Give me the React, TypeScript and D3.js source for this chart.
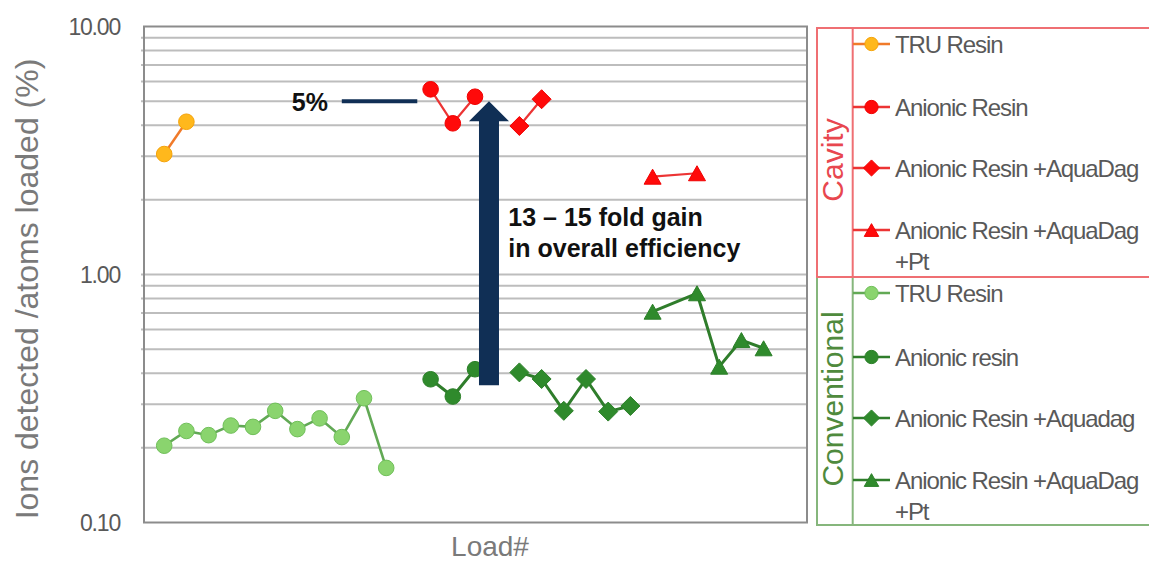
import React from "react";
import * as d3 from "d3";

// ---- data (Load# index, value in %) ----
const cavTruX = [1, 2];
const cavTruY = [3.06, 4.13];
const cavAnionicX = [13, 14, 15];
const cavAnionicY = [5.58, 4.07, 5.21];
const cavAquaX = [17, 18];
const cavAquaY = [3.97, 5.09];
const cavPtX = [23, 25];
const cavPtY = [2.48, 2.56];

const convTruX = [1, 2, 3, 4, 5, 6, 7, 8, 9, 10, 11];
const convTruY = [0.204, 0.234, 0.225, 0.246, 0.243, 0.282, 0.238, 0.263, 0.221, 0.317, 0.166];
const convAnionicX = [13, 14, 15];
const convAnionicY = [0.378, 0.322, 0.415];
const convAquaX = [17, 18, 19, 20, 21, 22];
const convAquaY = [0.403, 0.379, 0.282, 0.379, 0.28, 0.295];
const convPtX = [23, 25, 26, 27, 28];
const convPtY = [0.708, 0.84, 0.425, 0.544, 0.504];

const yTicks = [0.1, 1, 10];
const yTickLabels = ["0.10", "1.00", "10.00"];

type Shape = "circle" | "diamond" | "triangle";
interface Series {
  name: string;
  xs: number[];
  ys: number[];
  shape: Shape;
  fill: string;
  stroke: string;
  line: string;
  lineWidth: number;
}

const cavitySeries: Series[] = [
  { name: "TRU Resin", xs: cavTruX, ys: cavTruY, shape: "circle", fill: "#ffb81c", stroke: "#f5a30a", line: "#f07a2a", lineWidth: 2.5 },
  { name: "Anionic Resin", xs: cavAnionicX, ys: cavAnionicY, shape: "circle", fill: "#ff0a0a", stroke: "#f00000", line: "#ec3434", lineWidth: 2.2 },
  { name: "Anionic Resin +AquaDag", xs: cavAquaX, ys: cavAquaY, shape: "diamond", fill: "#ff0a0a", stroke: "#f00000", line: "#ec3434", lineWidth: 2.2 },
  { name: "Anionic Resin +AquaDag|+Pt", xs: cavPtX, ys: cavPtY, shape: "triangle", fill: "#ff0a0a", stroke: "#f00000", line: "#ec3434", lineWidth: 2.2 },
];
const convSeries: Series[] = [
  { name: "TRU Resin", xs: convTruX, ys: convTruY, shape: "circle", fill: "#8ad46e", stroke: "#70bf5a", line: "#62a955", lineWidth: 2.6 },
  { name: "Anionic resin", xs: convAnionicX, ys: convAnionicY, shape: "circle", fill: "#2f8a2c", stroke: "#2b7f28", line: "#2f7d2b", lineWidth: 3 },
  { name: "Anionic Resin +Aquadag", xs: convAquaX, ys: convAquaY, shape: "diamond", fill: "#2f8a2c", stroke: "#2b7f28", line: "#2f7d2b", lineWidth: 3 },
  { name: "Anionic Resin +AquaDag|+Pt", xs: convPtX, ys: convPtY, shape: "triangle", fill: "#2f8a2c", stroke: "#2b7f28", line: "#2f7d2b", lineWidth: 3 },
];

const W = 1149;
const H = 563;
const plot = { left: 144, right: 807, top: 26.5, bottom: 522.5 };
const FONT = "'Liberation Sans', Arial, sans-serif";

const x = d3.scaleLinear().domain([0, 30]).range([142, 808]);
const y = d3.scaleLog().domain([0.1, 10]).range([plot.bottom, plot.top]);

function markerPath(shape: Shape, scale = 1): string {
  if (shape === "circle") {
    const r = 7.8 * scale;
    return `M${-r},0A${r},${r} 0 1,0 ${r},0A${r},${r} 0 1,0 ${-r},0Z`;
  }
  if (shape === "diamond") {
    const r = 9.5 * scale;
    return `M0,${-r}L${r},0L0,${r}L${-r},0Z`;
  }
  const w = 8.5 * scale;
  const h = 7.5 * scale;
  return `M0,${-h}L${w},${h}L${-w},${h}Z`;
}

function SeriesMarks({ s }: { s: Series }) {
  const pts: [number, number][] = s.xs.map((xi, i) => [x(xi), y(s.ys[i])]);
  const line = d3.line()(pts) || "";
  return (
    <g>
      <path d={line} fill="none" stroke={s.line} strokeWidth={s.lineWidth} strokeLinejoin="round" />
      {pts.map((p, i) => (
        <path key={i} d={markerPath(s.shape)} transform={`translate(${p[0]},${p[1]})`} fill={s.fill} stroke={s.stroke} strokeWidth={1} />
      ))}
    </g>
  );
}

// annotation positions in data units
const fivePctLineX = [9.0, 12.4];
const fivePctValue = 5;
const arrowX = 15.63;
const arrowFrom = 0.358;
const arrowTo = 5;
const gainTextX = 16.5;
const gainLines = ["13 – 15 fold gain", "in overall efficiency"];

const legendCavY = [44, 107, 168, 230];
const legendConvY = [293, 357, 418, 480];

function LegendEntries({ series, ys }: { series: Series[]; ys: number[] }) {
  return (
    <g>
      {series.map((s, i) => {
        const parts = s.name.split("|");
        return (
          <g key={i}>
            <line x1={853} x2={890} y1={ys[i]} y2={ys[i]} stroke={s.line} strokeWidth={2.5} />
            <path d={markerPath(s.shape, 0.85)} transform={`translate(871.5,${ys[i]})`} fill={s.fill} stroke={s.stroke} />
            {parts.map((t, j) => (
              <text key={j} x={895} y={ys[i] + 8.5 + j * 31.5} fontFamily={FONT} fontSize={24} letterSpacing={-1.1} fill="#595959">
                {t}
              </text>
            ))}
          </g>
        );
      })}
    </g>
  );
}

export default function App() {
  const minorTicks: number[] = [];
  for (const dec of [0.1, 1]) {
    for (let k = 1; k <= 9; k++) {
      const v = dec * k;
      if (v > 0.1 + 1e-9) minorTicks.push(v);
    }
  }
  const ax = x(arrowX);
  const ayBottom = y(arrowFrom);
  const ayTip = y(arrowTo);
  const headH = 20;
  const headHalf = 20;
  const shaftHalf = 10;

  return (
    <svg width={W} height={H} style={{ position: "absolute", left: 0, top: 0, background: "#fff" }}>
      <rect x={0} y={0} width={W} height={H} fill="#fff" />
      {/* gridlines */}
      {minorTicks.map((v, i) => (
        <line key={i} x1={plot.left - 3} x2={plot.right} y1={y(v)} y2={y(v)} stroke="#bdbdbd" strokeWidth={2} />
      ))}
      {/* frame */}
      <rect x={plot.left} y={plot.top} width={plot.right - plot.left} height={plot.bottom - plot.top} fill="none" stroke="#8c8c8c" strokeWidth={2} />
      {/* y tick labels */}
      {yTicks.map((v, i) => (
        <text key={i} x={120} y={y(v) + 8} textAnchor="end" fontFamily={FONT} fontSize={23} letterSpacing={-1.2} fill="#595959">
          {yTickLabels[i]}
        </text>
      ))}
      {/* axis titles */}
      <text transform={`translate(38,289) rotate(-90)`} textAnchor="middle" fontFamily={FONT} fontSize={32} fill="#7a7a7a">
        Ions detected /atoms loaded (%)
      </text>
      <text x={490} y={556} textAnchor="middle" fontFamily={FONT} fontSize={28} fill="#7a7a7a">
        Load#
      </text>

      {/* series */}
      {[...convSeries, ...cavitySeries].map((s, i) => (
        <SeriesMarks key={i} s={s} />
      ))}

      {/* annotations */}
      <line x1={x(fivePctLineX[0])} x2={x(fivePctLineX[1])} y1={y(fivePctValue)} y2={y(fivePctValue)} stroke="#102f55" strokeWidth={4} />
      <text x={328} y={y(fivePctValue) + 10} textAnchor="end" fontFamily={FONT} fontWeight="bold" fontSize={25} fill="#111">
        5%
      </text>
      <path
        d={`M${ax - shaftHalf},${ayBottom}L${ax - shaftHalf},${ayTip + headH}L${ax - headHalf},${ayTip + headH}L${ax},${ayTip}L${ax + headHalf},${ayTip + headH}L${ax + shaftHalf},${ayTip + headH}L${ax + shaftHalf},${ayBottom}Z`}
        fill="#102f55"
      />
      {gainLines.map((t, i) => (
        <text key={i} x={x(gainTextX)} y={226 + i * 31} fontFamily={FONT} fontWeight="bold" fontSize={25} fill="#111">
          {t}
        </text>
      ))}

      {/* legend boxes */}
      <rect x={817} y={277} width={340} height={248} fill="none" stroke="#86b67c" strokeWidth={2} />
      <line x1={852.7} x2={852.7} y1={277} y2={525} stroke="#86b67c" strokeWidth={2} />
      <rect x={817} y={28} width={340} height={249} fill="none" stroke="#ef6f73" strokeWidth={2} />
      <line x1={852.7} x2={852.7} y1={28} y2={277} stroke="#ef6f73" strokeWidth={2} />
      <text transform={`translate(843,160) rotate(-90)`} textAnchor="middle" fontFamily={FONT} fontSize={30} fill="#e8474f">
        Cavity
      </text>
      <text transform={`translate(843,399) rotate(-90)`} textAnchor="middle" fontFamily={FONT} fontSize={30} fill="#4f8a3d">
        Conventional
      </text>
      <LegendEntries series={cavitySeries} ys={legendCavY} />
      <LegendEntries series={convSeries} ys={legendConvY} />
    </svg>
  );
}
